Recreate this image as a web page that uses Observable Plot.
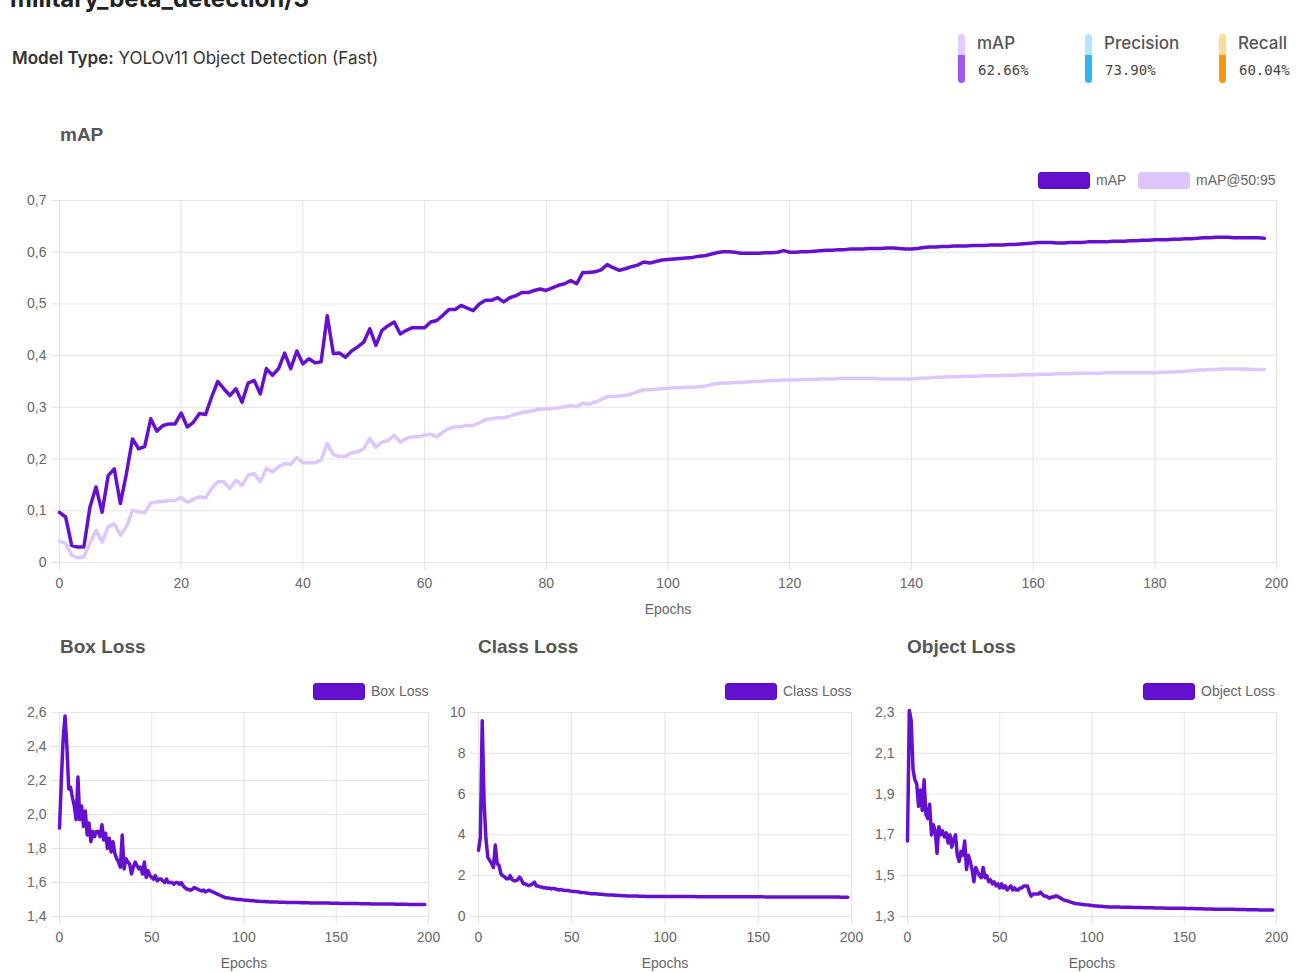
<!DOCTYPE html>
<html><head><meta charset="utf-8">
<script src="https://cdn.jsdelivr.net/npm/d3@7"></script>
<script src="https://cdn.jsdelivr.net/npm/@observablehq/plot@0.6"></script>
<style>
html,body{margin:0;padding:0;background:#fff;}
body{width:1304px;height:972px;overflow:hidden;position:relative;font-family:Inter,"Noto Sans",sans-serif;}
.a{position:absolute;white-space:nowrap;}
.ctitle{font-family:"Liberation Sans",Arial,sans-serif;font-weight:bold;font-size:19px;color:#555;line-height:22px;}
.lgbox{position:absolute;width:52px;height:17px;border-radius:3px;box-sizing:border-box;}
.lgtxt{font-family:"Liberation Sans",Arial,sans-serif;font-size:14px;color:#666;line-height:18px;}
.mlabel{font-family:Inter,sans-serif;font-size:17px;font-weight:500;color:#555;line-height:20px;}
.mval{font-family:"DejaVu Sans Mono",monospace;font-size:14px;color:#444;line-height:18px;}
.bar{position:absolute;width:7px;border-radius:4px;overflow:hidden;}
.bar div{width:100%;}
</style></head><body>
<script>
// ---------- data ----------
const pageTitle = "military_beta_detection/3";
const modelTypeLabel = "Model Type:";
const modelTypeValue = "YOLOv11 Object Detection (Fast)";
const metricNames = ["mAP", "Precision", "Recall"];
const metricValues = ["62.66%", "73.90%", "60.04%"];

const mapSeriesNames = ["mAP", "mAP@50:95"];
const mapVals = [
0.097,0.088,0.033,0.030,0.030,0.107,0.146,0.097,0.168,0.181,
0.114,0.172,0.239,0.220,0.224,0.278,0.254,0.265,0.268,0.268,
0.289,0.262,0.271,0.288,0.286,0.320,0.350,0.336,0.323,0.336,
0.310,0.347,0.352,0.326,0.375,0.362,0.375,0.405,0.375,0.409,
0.384,0.394,0.386,0.388,0.477,0.404,0.405,0.397,0.409,0.417,
0.426,0.452,0.420,0.449,0.458,0.465,0.442,0.449,0.454,0.454,
0.454,0.465,0.468,0.478,0.489,0.489,0.497,0.492,0.487,0.500,
0.507,0.507,0.512,0.504,0.512,0.516,0.522,0.522,0.526,0.529,
0.526,0.531,0.536,0.539,0.545,0.539,0.561,0.561,0.562,0.566,
0.576,0.570,0.565,0.568,0.572,0.575,0.581,0.579,0.582,0.585,
0.586,0.587,0.588,0.589,0.590,0.592,0.593,0.596,0.599,0.601,
0.601,0.600,0.598,0.598,0.598,0.598,0.599,0.599,0.600,0.603,
0.600,0.600,0.601,0.601,0.602,0.603,0.604,0.604,0.605,0.605,
0.606,0.606,0.606,0.607,0.607,0.607,0.608,0.608,0.607,0.606,
0.606,0.607,0.609,0.610,0.610,0.611,0.611,0.612,0.612,0.612,
0.613,0.613,0.613,0.614,0.614,0.614,0.615,0.615,0.616,0.617,
0.618,0.619,0.619,0.619,0.618,0.618,0.619,0.619,0.619,0.620,
0.620,0.620,0.620,0.621,0.621,0.621,0.622,0.622,0.623,0.623,
0.624,0.624,0.624,0.625,0.625,0.626,0.626,0.627,0.628,0.628,
0.629,0.629,0.629,0.628,0.628,0.628,0.628,0.628,0.627];
const map5095Vals = [
0.041,0.037,0.014,0.009,0.011,0.037,0.062,0.040,0.069,0.075,
0.053,0.069,0.101,0.098,0.096,0.115,0.117,0.118,0.120,0.120,
0.126,0.116,0.122,0.127,0.125,0.143,0.156,0.156,0.143,0.159,
0.149,0.169,0.172,0.156,0.182,0.175,0.185,0.191,0.190,0.203,
0.193,0.193,0.193,0.198,0.230,0.209,0.205,0.205,0.212,0.214,
0.220,0.240,0.223,0.233,0.236,0.246,0.233,0.240,0.243,0.243,
0.246,0.248,0.243,0.252,0.259,0.262,0.263,0.265,0.265,0.270,
0.276,0.278,0.280,0.280,0.283,0.287,0.290,0.292,0.294,0.297,
0.297,0.298,0.299,0.301,0.303,0.301,0.308,0.306,0.310,0.315,
0.321,0.321,0.322,0.323,0.326,0.330,0.334,0.334,0.335,0.336,
0.337,0.338,0.338,0.339,0.339,0.340,0.341,0.344,0.346,0.347,
0.347,0.348,0.348,0.349,0.350,0.350,0.351,0.352,0.352,0.353,
0.353,0.353,0.354,0.354,0.354,0.355,0.355,0.355,0.356,0.356,
0.356,0.356,0.356,0.356,0.356,0.355,0.355,0.355,0.355,0.355,
0.355,0.356,0.357,0.357,0.358,0.358,0.359,0.359,0.359,0.360,
0.360,0.360,0.361,0.361,0.361,0.362,0.362,0.362,0.363,0.363,
0.363,0.364,0.364,0.364,0.365,0.365,0.365,0.366,0.366,0.366,
0.366,0.366,0.367,0.367,0.367,0.367,0.367,0.367,0.367,0.367,
0.367,0.368,0.368,0.369,0.369,0.370,0.371,0.372,0.372,0.373,
0.373,0.374,0.374,0.374,0.374,0.374,0.373,0.373,0.373];

const boxLoss = [
1.92,2.20,2.45,2.58,2.40,2.15,2.16,2.10,2.05,1.97,
2.22,1.97,2.05,1.93,2.02,1.88,1.95,1.84,1.90,1.87,
1.90,1.90,1.87,1.94,1.85,1.89,1.80,1.86,1.78,1.84,
1.77,1.74,1.72,1.69,1.88,1.68,1.74,1.72,1.71,1.65,
1.69,1.72,1.70,1.68,1.69,1.65,1.72,1.63,1.67,1.64,
1.63,1.62,1.64,1.61,1.62,1.62,1.61,1.60,1.62,1.60,
1.60,1.60,1.59,1.60,1.60,1.59,1.60,1.58,1.57,1.56,
1.56,1.555,1.56,1.57,1.565,1.56,1.555,1.55,1.555,1.545,
1.55,1.555,1.55,1.545,1.54,1.535,1.53,1.525,1.52,1.515,
1.51,1.51,1.508,1.506,1.505,1.503,1.502,1.50,1.50,1.498,
1.497,1.496,1.495,1.494,1.493,1.492,1.491,1.490,1.490,1.489,
1.488,1.488,1.487,1.487,1.486,1.486,1.485,1.485,1.485,1.484,
1.484,1.484,1.484,1.483,1.483,1.483,1.483,1.482,1.482,1.482,
1.482,1.481,1.481,1.481,1.481,1.481,1.480,1.480,1.480,1.480,
1.480,1.480,1.479,1.479,1.479,1.479,1.479,1.478,1.478,1.478,
1.478,1.478,1.477,1.477,1.477,1.477,1.477,1.476,1.476,1.476,
1.476,1.476,1.476,1.475,1.475,1.475,1.475,1.475,1.475,1.474,
1.474,1.474,1.474,1.474,1.474,1.473,1.473,1.473,1.473,1.473,
1.473,1.473,1.472,1.472,1.472,1.472,1.472,1.472,1.472,1.471,
1.471,1.471,1.471,1.471,1.471,1.471,1.471,1.470,1.470];

const classLoss = [
3.25,3.9,9.6,5.6,3.8,2.9,2.75,2.6,2.4,3.5,
2.6,2.5,2.1,2.0,1.95,1.85,1.85,2.0,1.8,1.75,
1.75,1.8,1.93,1.8,1.6,1.6,1.55,1.52,1.55,1.6,
1.68,1.5,1.5,1.44,1.45,1.4,1.42,1.38,1.4,1.35,
1.38,1.36,1.33,1.3,1.32,1.3,1.28,1.27,1.28,1.25,
1.24,1.23,1.22,1.21,1.2,1.18,1.17,1.16,1.15,1.14,
1.12,1.12,1.11,1.11,1.1,1.09,1.09,1.08,1.07,1.06,
1.06,1.05,1.05,1.04,1.04,1.03,1.03,1.02,1.02,1.02,
1.01,1.01,1.01,1.0,1.0,1.0,0.995,0.99,0.99,0.99,
0.985,0.985,0.98,0.98,0.98,0.98,0.98,0.98,0.98,0.98,
0.980,0.980,0.979,0.979,0.979,0.978,0.978,0.978,0.977,0.977,
0.977,0.976,0.976,0.976,0.975,0.975,0.975,0.974,0.974,0.974,
0.973,0.973,0.973,0.972,0.972,0.972,0.971,0.971,0.971,0.970,
0.970,0.970,0.969,0.969,0.969,0.968,0.968,0.968,0.967,0.967,
0.967,0.966,0.966,0.966,0.965,0.965,0.965,0.964,0.964,0.964,
0.963,0.963,0.963,0.962,0.962,0.962,0.961,0.961,0.961,0.960,
0.960,0.960,0.959,0.959,0.959,0.958,0.958,0.958,0.957,0.957,
0.957,0.956,0.956,0.956,0.955,0.955,0.955,0.954,0.954,0.954,
0.953,0.953,0.953,0.952,0.952,0.952,0.951,0.951,0.951,0.950,
0.950,0.950,0.950,0.950,0.949,0.949,0.949,0.949,0.948];

const objectLoss = [
1.67,2.31,2.26,2.02,1.97,1.95,1.84,1.92,1.82,1.97,
1.80,1.78,1.85,1.70,1.75,1.72,1.61,1.74,1.70,1.72,
1.69,1.71,1.66,1.70,1.64,1.68,1.70,1.60,1.57,1.62,
1.60,1.67,1.53,1.60,1.57,1.53,1.47,1.54,1.52,1.50,
1.49,1.54,1.49,1.50,1.47,1.48,1.46,1.47,1.45,1.46,
1.44,1.46,1.44,1.45,1.43,1.44,1.45,1.43,1.44,1.43,
1.43,1.44,1.44,1.45,1.45,1.45,1.42,1.40,1.41,1.41,
1.41,1.41,1.42,1.41,1.40,1.40,1.395,1.39,1.395,1.395,
1.40,1.40,1.395,1.39,1.385,1.38,1.378,1.375,1.372,1.369,
1.366,1.364,1.362,1.361,1.360,1.359,1.358,1.357,1.356,1.355,
1.354,1.353,1.352,1.351,1.350,1.350,1.349,1.348,1.348,1.347,
1.347,1.346,1.346,1.346,1.346,1.346,1.345,1.345,1.345,1.345,
1.345,1.345,1.344,1.344,1.344,1.344,1.344,1.344,1.343,1.343,
1.343,1.343,1.343,1.343,1.342,1.342,1.342,1.342,1.342,1.342,
1.341,1.341,1.341,1.341,1.341,1.340,1.340,1.340,1.340,1.340,
1.340,1.339,1.339,1.339,1.339,1.339,1.338,1.338,1.338,1.338,
1.338,1.337,1.337,1.337,1.337,1.337,1.336,1.336,1.336,1.336,
1.336,1.336,1.335,1.335,1.335,1.335,1.335,1.335,1.334,1.334,
1.334,1.334,1.334,1.334,1.333,1.333,1.333,1.333,1.333,1.333,
1.333,1.332,1.332,1.332,1.332,1.332,1.332,1.332,1.332];

const mapXTicks = [0,20,40,60,80,100,120,140,160,180,200];
const mapYTicks = [0,0.1,0.2,0.3,0.4,0.5,0.6,0.7];
const lossXTicks = [0,50,100,150,200];
const boxYTicks = [1.4,1.6,1.8,2.0,2.2,2.4,2.6];
const classYTicks = [0,2,4,6,8,10];
const objectYTicks = [1.3,1.5,1.7,1.9,2.1,2.3];

// ---------- styles ----------
const DARK = "#6610cf";
const LIGHT = "#dcc7fc";
const GRID = "#e4e4e4";
const TICKTXT = "#666";
const FONT = "'Liberation Sans', Arial, Helvetica, sans-serif";
const fmtAuto = d => String(+d.toFixed(2)).replace(".", ",");
const fmt1 = d => d.toFixed(1).replace(".", ",");

function el(html, cls, x, y, extra) {
  const d = document.createElement("div");
  d.className = "a " + (cls || "");
  d.style.left = x + "px"; d.style.top = y + "px";
  if (extra) Object.assign(d.style, extra);
  d.innerHTML = html;
  document.body.appendChild(d);
  return d;
}

// header
el(pageTitle, "", 10, -15, {fontFamily: "Inter, sans-serif", fontWeight: "700", fontSize: "24px", color: "#222", lineHeight: "28px"});
el("<b style='font-weight:600'>" + modelTypeLabel + "</b> " + modelTypeValue, "", 12, 48,
   {fontSize: "17px", color: "#333", lineHeight: "20px"});

const metricX = [958, 1085, 1219];
const barColors = [["#e2cbfd", "#a155ef"], ["#b6e2fb", "#2fb6f0"], ["#fbdc8f", "#f09a12"]];
metricNames.forEach((name, i) => {
  const b = document.createElement("div");
  b.className = "bar";
  b.style.left = metricX[i] + "px"; b.style.top = "34px"; b.style.height = "49px";
  b.innerHTML = `<div style="height:21px;background:${barColors[i][0]}"></div><div style="height:28px;background:${barColors[i][1]}"></div>`;
  document.body.appendChild(b);
  el(name, "mlabel", metricX[i] + 19, 33);
  el(metricValues[i], "mval", metricX[i] + 20, 61);
});

// chart titles
el("mAP", "ctitle", 60, 124);
el("Box Loss", "ctitle", 60, 636);
el("Class Loss", "ctitle", 478, 636);
el("Object Loss", "ctitle", 907, 636);

// legends
function legend(items, x, y) {
  let cx = x;
  items.forEach(([label, color, w]) => {
    const box = document.createElement("div");
    box.className = "lgbox";
    box.style.left = cx + "px"; box.style.top = y + "px";
    box.style.background = color;
    box.style.border = "1px solid " + (color === DARK ? "#5a0cbb" : color);
    document.body.appendChild(box);
    el(label, "lgtxt", cx + 58, y - 1);
    cx += w;
  });
}
legend([[mapSeriesNames[0], DARK, 100], [mapSeriesNames[1], LIGHT, 100]], 1038, 172);
legend([["Box Loss", DARK, 0]], 313, 683);
legend([["Class Loss", DARK, 0]], 725, 683);
legend([["Object Loss", DARK, 0]], 1143, 683);

// charts
function chart({left, top, width, height, mL, mR, mT, mB, xDomain, yDomain, xTicks, yTicks, yFormat, series}) {
  const p = Plot.plot({
    width, height, marginLeft: mL, marginRight: mR, marginTop: mT, marginBottom: mB,
    x: {domain: xDomain}, y: {domain: yDomain},
    style: {fontFamily: FONT, fontSize: "14px", color: TICKTXT, background: "transparent", overflow: "visible"},
    marks: [
      Plot.gridX(xTicks, {stroke: GRID, strokeOpacity: 1}),
      Plot.gridY(yTicks, {stroke: GRID, strokeOpacity: 1}),
      Plot.axisX(xTicks, {tickSize: 8, tickPadding: 8, stroke: GRID, fill: TICKTXT, tickFormat: fmtAuto,
        label: "Epochs", labelAnchor: "center", labelArrow: "none", labelOffset: 51}),
      Plot.axisY(yTicks, {tickSize: 8, tickPadding: 5, stroke: GRID, fill: TICKTXT, tickFormat: yFormat, label: null}),
      ...series.map(([vals, color]) => Plot.lineY(vals, {stroke: color, strokeWidth: 3.5, strokeLinejoin: "round"}))
    ]
  });
  p.style.position = "absolute";
  p.style.left = left + "px"; p.style.top = top + "px";
  document.body.appendChild(p);
}

chart({left: 0, top: 160, width: 1304, height: 470, mL: 59, mR: 28, mT: 40, mB: 68,
  xDomain: [0, 200], yDomain: [0, 0.7], xTicks: mapXTicks, yTicks: mapYTicks, yFormat: fmtAuto,
  series: [[map5095Vals, LIGHT], [mapVals, DARK]]});
chart({left: 0, top: 700, width: 440, height: 272, mL: 59, mR: 12, mT: 12, mB: 56,
  xDomain: [0, 200], yDomain: [1.4, 2.6], xTicks: lossXTicks, yTicks: boxYTicks, yFormat: fmt1,
  series: [[boxLoss, DARK]]});
chart({left: 440, top: 700, width: 430, height: 272, mL: 38, mR: 19, mT: 12, mB: 56,
  xDomain: [0, 200], yDomain: [0, 10], xTicks: lossXTicks, yTicks: classYTicks, yFormat: fmtAuto,
  series: [[classLoss, DARK]]});
chart({left: 870, top: 700, width: 434, height: 272, mL: 37, mR: 28, mT: 12, mB: 56,
  xDomain: [0, 200], yDomain: [1.3, 2.3], xTicks: lossXTicks, yTicks: objectYTicks, yFormat: fmt1,
  series: [[objectLoss, DARK]]});
</script>
</body></html>
